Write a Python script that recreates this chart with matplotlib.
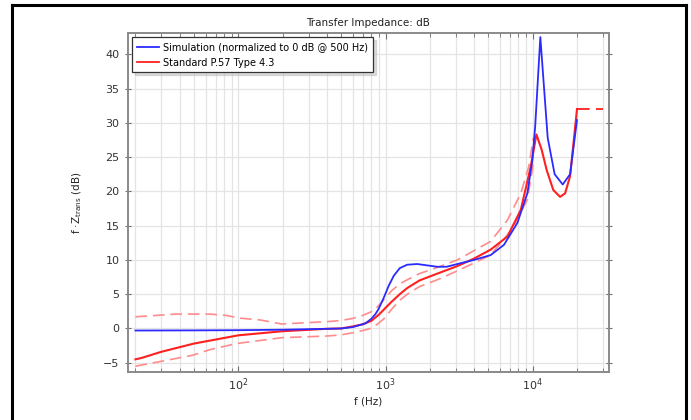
import matplotlib
matplotlib.use("Agg")
import matplotlib.pyplot as plt
from matplotlib.lines import Line2D
from matplotlib.ticker import LogLocator, NullFormatter, MultipleLocator

# ---- data ----
sim_f = [20, 50, 100, 200, 400, 500, 600, 731, 800, 855, 900, 974, 1050, 1139,
         1250, 1405, 1643, 2000, 2247, 2600, 3075, 4000, 5180, 6380, 7870,
         9200, 9950, 10400, 11270, 12650, 14100, 16000, 17950, 20000]
sim_v = [-0.3, -0.28, -0.25, -0.18, -0.05, 0.0, 0.2, 0.75, 1.4, 2.1, 2.9, 4.5,
         6.2, 7.7, 8.8, 9.3, 9.4, 9.15, 9.0, 9.0, 9.4, 10.0, 10.7, 12.2, 15.4,
         19.7, 24.6, 29.5, 42.5, 27.8, 22.5, 21.0, 22.5, 30.4]

std_f = [20, 22, 30, 50, 100, 200, 400, 500, 600, 700, 800, 900, 1000, 1100,
         1250, 1405, 1700, 2247, 3075, 4000, 5180, 6730, 8300, 9700, 10600,
         11500, 12450, 13800, 15350, 16600, 17950, 20000]
std_v = [-4.5, -4.3, -3.4, -2.2, -1.0, -0.4, -0.05, 0.0, 0.3, 0.6, 1.1, 2.0,
         3.0, 3.9, 5.0, 5.9, 7.0, 8.0, 9.1, 10.2, 11.5, 13.4, 17.3, 23.6, 28.3,
         26.1, 23.1, 20.2, 19.2, 19.7, 22.2, 32.0]

upper_f = [20, 38, 64, 83, 103, 140, 197, 400, 494, 609, 700, 833, 950, 1100,
           1250, 1405, 1700, 2247, 3075, 5180, 6730, 8300, 9400, 10100]
upper_v = [1.7, 2.1, 2.1, 1.9, 1.5, 1.25, 0.65, 1.0, 1.15, 1.5, 1.9, 2.6, 3.9,
           5.5, 6.5, 7.1, 8.0, 8.9, 10.0, 12.7, 15.8, 19.7, 23.6, 27.8]

lower_f = [20, 29, 49, 64, 97, 197, 400, 494, 609, 700, 790, 878, 974, 1100,
           1250, 1405, 1700, 2247, 3075, 5180, 7200, 9200, 10200]
lower_v = [-5.5, -4.85, -3.9, -3.1, -2.2, -1.35, -1.1, -0.95, -0.6, -0.3, 0.0,
           0.6, 1.4, 2.8, 4.1, 5.0, 6.1, 7.1, 8.4, 10.7, 14.4, 18.8, 24.6]

hf_f = [20000, 30000]
hf_v = [32.0, 32.0]

legend_labels = ['Simulation (normalized to 0 dB @ 500 Hz)', 'Standard P.57 Type 4.3']

# ---- figure ----
fig = plt.figure(figsize=(6.91, 4.20), dpi=100)
ax = fig.add_axes([128/691, 1-372/420, (609-128)/691, (372-33)/420])

blue = '#2b2bff'
red = '#ff2020'
lred = '#ff8c8c'

ax.plot(upper_f, upper_v, color=lred, lw=1.2, dashes=(7, 3.5))
ax.plot(lower_f, lower_v, color=lred, lw=1.2, dashes=(7, 3.5))
ax.plot(hf_f, hf_v, color=red, lw=1.3, dashes=(7, 3.5))
ax.plot(std_f, std_v, color=red, lw=1.5)
ax.plot(sim_f, sim_v, color=blue, lw=1.3)

ax.set_xscale('log')
ax.set_xlim(17.8, 33000)
ax.set_ylim(-6.35, 43.1)
ax.yaxis.set_major_locator(MultipleLocator(5))
ax.xaxis.set_minor_locator(LogLocator(base=10, subs=range(2, 10)))
ax.xaxis.set_minor_formatter(NullFormatter())

ax.grid(True, which='major', color='#e4e4e4', lw=0.9)
ax.grid(True, which='minor', axis='x', color='#e4e4e4', lw=0.9)
ax.set_axisbelow(True)

for s in ax.spines.values():
    s.set_color('#8a8a8a')
    s.set_linewidth(1.4)

ax.tick_params(which='both', direction='in', top=True, right=True,
               color='#707070', labelsize=8, labelcolor='#333333')
ax.tick_params(which='major', length=4)
ax.tick_params(which='minor', length=3)
ax.tick_params(axis='y', which='both', left=True, direction='inout', length=5)

ax.set_title('Transfer Impedance: dB', fontsize=7.5, color='#222222', pad=5)
ax.set_xlabel('f (Hz)', fontsize=7.5, color='#222222', labelpad=2)
ax.set_ylabel(r'f ·Z$_{\mathrm{trans}}$ (dB)', fontsize=7.5, color='#222222', labelpad=14)

handles = [Line2D([], [], color=blue, lw=1.3), Line2D([], [], color=red, lw=1.3)]
leg = ax.legend(handles, legend_labels,
                loc='upper left', fontsize=7, fancybox=False, shadow={'color': '#bbbbbb'},
                framealpha=1, edgecolor='#333333', handlelength=2.2,
                borderaxespad=0.45, labelspacing=0.55, handletextpad=0.5,
                borderpad=0.5)
leg.get_frame().set_linewidth(0.9)

# outer black frame
fig.add_artist(Line2D([12/691, 12/691], [0, 1-5/420], color='black', lw=2.2, transform=fig.transFigure))
fig.add_artist(Line2D([686/691, 686/691], [0, 1-5/420], color='black', lw=2.2, transform=fig.transFigure))
fig.add_artist(Line2D([12/691, 686/691], [1-5/420, 1-5/420], color='black', lw=2.2, transform=fig.transFigure))

fig.savefig('out.png', dpi=100)
